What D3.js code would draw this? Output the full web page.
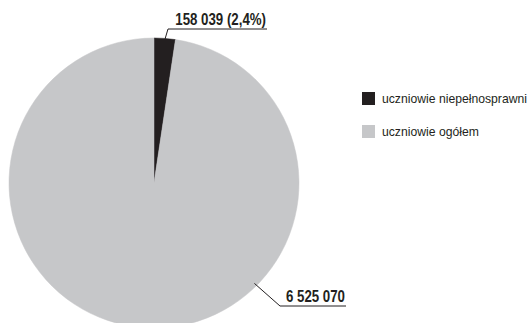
<!DOCTYPE html>
<html>
<head>
<meta charset="utf-8">
<script src="https://cdn.jsdelivr.net/npm/d3@7"></script>
<style>
  html, body { margin: 0; padding: 0; background: #ffffff; }
  svg { display: block; }
</style>
</head>
<body>
<svg id="chart" width="531" height="323"></svg>
<script>
// Students in Poland: pupils with disabilities vs. all pupils
const categories = ["uczniowie niepełnosprawni", "uczniowie ogółem"];
const values = [158039, 6525070];
const valueLabels = ["158 039 (2,4%)", "6 525 070"];
const colors = ["#231f20", "#c6c7c9"];

const svg = d3.select("#chart");
const cx = 154, cy = 183, radius = 145;
const ink = "#231f20";

const pie = d3.pie().sort(null).value(d => d.value);
const arcs = pie(categories.map((c, i) => ({ name: c, value: values[i] })));
const arc = d3.arc().innerRadius(0).outerRadius(radius);

const g = svg.append("g").attr("transform", `translate(${cx},${cy})`);
g.selectAll("path.slice")
  .data(arcs)
  .join("path")
  .attr("class", "slice")
  .attr("d", arc)
  .attr("fill", (d, i) => colors[i])
  .attr("stroke", (d, i) => colors[i])
  .attr("stroke-width", 0.5);

// Value callouts: a leader from the rim to an underlined label
const callouts = [
  { angle: null, r: radius - 2, x0: 168, y: 29, x1: 267 },
  { angle: 0.375, r: radius - 3, x0: 280, y: 306, x1: 346 }
];

// condensed bold face, drawn by narrowing the regular bold horizontally
const narrow = 0.83;

callouts.forEach((c, i) => {
  const a = arcs[i];
  const ang = c.angle === null ? (a.startAngle + a.endAngle) / 2 : c.angle * 2 * Math.PI;
  const px = cx + c.r * Math.sin(ang);
  const py = cy - c.r * Math.cos(ang);
  svg.append("polyline")
    .attr("points", `${px},${py} ${c.x0},${c.y} ${c.x1},${c.y}`)
    .attr("fill", "none")
    .attr("stroke", ink)
    .attr("stroke-width", 1);
  svg.append("text")
    .attr("transform", `translate(${c.x1 - 1},${c.y - 3.8}) scale(${narrow},1)`)
    .attr("text-anchor", "end")
    .attr("font-family", "'Liberation Sans', Arial, sans-serif")
    .attr("font-weight", "bold")
    .attr("font-size", 16)
    .attr("fill", ink)
    .text(valueLabels[i]);
});

// Legend
const legend = svg.append("g").attr("transform", "translate(362,92)");
const item = legend.selectAll("g")
  .data(categories)
  .join("g")
  .attr("transform", (d, i) => `translate(0,${i * 33})`);
item.append("rect")
  .attr("width", 13)
  .attr("height", 13)
  .attr("fill", (d, i) => colors[i]);
item.append("text")
  .attr("x", 20)
  .attr("y", 11)
  .attr("font-family", "'Liberation Sans', Arial, sans-serif")
  .attr("font-size", 12.2)
  .attr("fill", ink)
  .text(d => d);
</script>
</body>
</html>
